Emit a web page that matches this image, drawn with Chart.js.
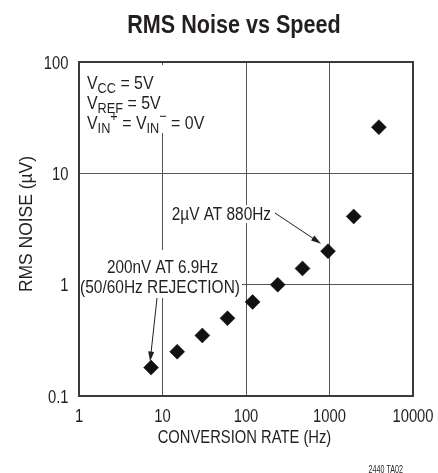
<!DOCTYPE html>
<html>
<head>
<meta charset="utf-8">
<script src="https://cdn.jsdelivr.net/npm/chart.js@4.4.1/dist/chart.umd.min.js"></script>
<style>
  html, body { margin: 0; padding: 0; background: #fff; }
  #caixa { width: 438px; height: 473px; }
</style>
</head>
<body>
<div id="caixa"><canvas id="grafico"></canvas></div>
<script>
// dados (taxa em Hz, ruido em uV)
const taxas = [7.3, 15, 30, 60, 120, 240, 475, 960, 1950, 3900]
const ruido = [0.18, 0.25, 0.35, 0.5, 0.7, 1.0, 1.4, 2.0, 4.1, 26]
const ticksX = [1, 10, 100, 1000, 10000]
const ticksY = [0.1, 1, 10, 100]

const fonte = '"Liberation Sans", Arial, sans-serif'
const corTexto = '#231f20'

// texto "estreito": a fonte condensada nao existe, entao comprime na horizontal
function escreve(ctx, t, x, y, tam, esc, negrito, alinh) {
    ctx.save()
    ctx.translate(x, y)
    ctx.scale(esc, 1)
    ctx.font = (negrito ? 'bold ' : '') + tam + 'px ' + fonte
    ctx.textAlign = alinh || 'left'
    ctx.fillText(t, 0, 0)
    let w = ctx.measureText(t).width * esc
    ctx.restore()
    return w
}

// texto com subscrito / sobrescrito
function textoRico(ctx, partes, x, y, tam, esc) {
    let px = x
    partes.forEach(([t, tipo]) => {
        let s = tipo ? tam * 0.8 : tam
        let dy = tipo == 'sub' ? tam * 0.25 : (tipo == 'sup' ? -tam * 0.42 : 0)
        px += escreve(ctx, t, px, y + dy, s, esc)
    })
    return px - x
}

function seta(ctx, x1, y1, x2, y2) {
    const ang = Math.atan2(y2 - y1, x2 - x1)
    const c = Math.cos(ang), s = Math.sin(ang)
    ctx.beginPath()
    ctx.moveTo(x1, y1)
    ctx.lineTo(x2 - c * 6, y2 - s * 6)
    ctx.stroke()
    ctx.beginPath()
    ctx.moveTo(x2, y2)
    ctx.lineTo(x2 - c * 10 + s * 3, y2 - s * 10 - c * 3)
    ctx.lineTo(x2 - c * 10 - s * 3, y2 - s * 10 + c * 3)
    ctx.closePath()
    ctx.fill()
}

function fundo(ctx, x, y, w, h) {
    ctx.fillStyle = '#fff'
    ctx.fillRect(x, y, w, h)
    ctx.fillStyle = corTexto
}

const notas = {
    id: 'notas',
    beforeDatasetsDraw(chart) {
        const { ctx, chartArea: a, scales: { x, y } } = chart
        ctx.save()
        ctx.fillStyle = corTexto
        ctx.strokeStyle = corTexto
        ctx.lineWidth = 1
        ctx.textBaseline = 'alphabetic'

        // condicoes de teste
        fundo(ctx, a.left + 5, a.top + 3, 122, 68)
        textoRico(ctx, [['V'], ['CC', 'sub'], [' = 5V']], 87, 88.5, 18.5, 0.86)
        textoRico(ctx, [['V'], ['REF', 'sub'], [' = 5V']], 87, 108.5, 18.5, 0.86)
        textoRico(ctx, [['V'], ['IN', 'sub'], ['+', 'sup'], [' = V'], ['IN', 'sub'], ['\u2212', 'sup'], [' = 0V']], 87, 128.5, 18.5, 0.86)

        // 2uV AT 880Hz
        fundo(ctx, 169, 205, 105, 18)
        escreve(ctx, '2\u00b5V AT 880Hz', 271, 220, 18, 0.855, false, 'right')
        let px = x.getPixelForValue(taxas[7]), py = y.getPixelForValue(ruido[7])
        seta(ctx, 275, 213, px - 7, py - 7.5)

        // 200nV AT 6.9Hz
        fundo(ctx, 104, 250, 118, 24)
        fundo(ctx, 80, 274, 162, 24)
        escreve(ctx, '200nV AT 6.9Hz', 162.5, 272.7, 18, 0.85, false, 'center')
        escreve(ctx, '(50/60Hz REJECTION)', 160, 292.5, 18, 0.86, false, 'center')
        px = x.getPixelForValue(taxas[0]); py = y.getPixelForValue(ruido[0])
        seta(ctx, 157, 298, px - 1, py - 6)
        ctx.restore()
    },
    afterDraw(chart) {
        const { ctx, chartArea: a, scales: { x, y } } = chart
        ctx.save()
        ctx.strokeStyle = '#3a3a3a'
        ctx.lineWidth = 2
        ctx.strokeRect(a.left, a.top, a.right - a.left, a.bottom - a.top)

        ctx.fillStyle = corTexto
        ctx.textBaseline = 'alphabetic'
        // rotulos dos eixos
        ticksX.forEach(v => escreve(ctx, String(v), x.getPixelForValue(v), 421.7, 18, 0.82, false, 'center'))
        ticksY.forEach(v => escreve(ctx, String(v), 68.5, y.getPixelForValue(v) + 6.5, 18, 0.82, false, 'right'))

        escreve(ctx, 'RMS Noise vs Speed', 234, 33.3, 26, 0.83, true, 'center')
        escreve(ctx, 'CONVERSION RATE (Hz)', 244.5, 443, 18, 0.82, false, 'center')
        ctx.save()
        ctx.translate(31.5, 224)
        ctx.rotate(-Math.PI / 2)
        escreve(ctx, 'RMS NOISE (\u00b5V)', 0, 0, 18, 0.97, false, 'center')
        ctx.restore()
        escreve(ctx, '2440 TA02', 403, 472.5, 10.5, 0.68, false, 'right')
        ctx.restore()
    }
}

let ctx = document.getElementById('grafico').getContext('2d')
let chart = new Chart(ctx, {
    type: 'scatter',
    data: {
        datasets: [{
            label: 'RMS Noise',
            data: taxas.map((t, i) => ({ x: t, y: ruido[i] })),
            pointStyle: 'rectRot',
            pointRadius: 7.5,
            pointHoverRadius: 7.5,
            backgroundColor: '#111',
            borderColor: '#111',
            borderWidth: 0.5
        }]
    },
    options: {
        responsive: true,
        maintainAspectRatio: false,
        animation: false,
        events: [],
        layout: { padding: { top: 62, right: 25, bottom: 0, left: 0 } },
        plugins: {
            legend: { display: false },
            tooltip: { enabled: false },
            title: { display: false }
        },
        scales: {
            x: {
                type: 'logarithmic',
                min: 1,
                max: 10000,
                afterBuildTicks: (s) => { s.ticks = ticksX.map(v => ({ value: v })) },
                afterFit: (s) => { s.height = 77 },
                grid: { color: '#555', lineWidth: 1, drawTicks: false },
                border: { display: false },
                ticks: { display: false }
            },
            y: {
                type: 'logarithmic',
                min: 0.1,
                max: 100,
                afterBuildTicks: (s) => { s.ticks = ticksY.map(v => ({ value: v })) },
                afterFit: (s) => { s.width = 79 },
                grid: { color: '#555', lineWidth: 1, drawTicks: false },
                border: { display: false },
                ticks: { display: false }
            }
        }
    },
    plugins: [notas]
})
</script>
</body>
</html>
